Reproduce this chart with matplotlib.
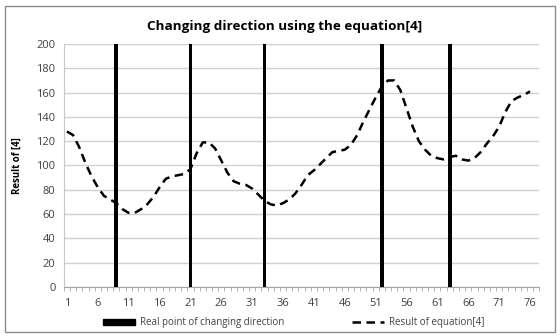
import numpy as np
import matplotlib
matplotlib.use("Agg")
import matplotlib.pyplot as plt
import matplotlib.patches as mpatches
from matplotlib.lines import Line2D

# ─────────────────────────────────────────────────────────────────────────────
#  DATA
# ─────────────────────────────────────────────────────────────────────────────

n_categories = 77
change_points = [9, 21, 33, 52, 63]
change_value = 200

equation_result = [
    128, 125, 115, 102, 91, 82, 75, 72, 69, 64,
    61, 61, 64, 68, 74, 82, 89, 91, 92, 93,
    97, 110, 119, 119, 114, 104, 94, 87, 85, 84,
    81, 76, 71, 68, 67, 69, 72, 77, 84, 92,
    96, 101, 106, 111, 112, 113, 117, 125, 136, 146,
    156, 165, 170, 170, 162, 147, 132, 120, 113, 108,
    106, 105, 107, 108, 105, 104, 106, 111, 118, 124,
    132, 144, 153, 156, 158, 161,
]

x_ticklabels = list(range(1, 77, 5))
y_ticks = list(range(0, 201, 20))

# ─────────────────────────────────────────────────────────────────────────────
#  FIGURE
# ─────────────────────────────────────────────────────────────────────────────

plt.rcParams["font.family"] = ["Open Sans", "DejaVu Sans"]

fig = plt.figure(figsize=(5.6, 3.36), dpi=100)
ax = fig.add_axes([0.114, 0.146, 0.849, 0.723])

# outer frame of the chart
fig.patches.append(mpatches.Rectangle(
    (0.009, 0.012), 0.982, 0.97,
    transform=fig.transFigure, fill=False,
    edgecolor="#8c8c8c", linewidth=1.0
))

ax.bar(change_points, [change_value] * len(change_points),
       width=0.62, color="black", zorder=3)

x_line = np.arange(1, len(equation_result) + 1)
ax.plot(x_line, equation_result, color="black", linewidth=1.8,
        dashes=(3.4, 2.2), zorder=4)

ax.set_xlim(0.5, n_categories + 0.5)
ax.set_ylim(0, 200)
ax.set_yticks(y_ticks)
ax.set_xticks(x_ticklabels)
ax.set_xticklabels([str(v) for v in x_ticklabels])
ax.set_xticks(np.arange(0.5, n_categories + 1, 1), minor=True)
ax.tick_params(axis="x", which="major", length=0, labelsize=8,
               colors="#404040", pad=8)
ax.tick_params(axis="x", which="minor", length=3, color="#a6a6a6")
ax.tick_params(axis="y", length=0, labelsize=8, colors="#404040", pad=6)

ax.grid(axis="y", color="#d0d0d0", linewidth=1.0, zorder=0)
ax.set_axisbelow(True)
for side in ["top", "right"]:
    ax.spines[side].set_visible(False)
ax.spines["left"].set_color("#c8c8c8")
ax.spines["bottom"].set_color("#a6a6a6")

ax.set_ylabel("Result of [4]", fontsize=7, fontweight="bold", labelpad=10)
fig.text(0.509, 0.922, "Changing direction using the equation[4]",
         ha="center", va="center", fontsize=9.7, fontweight="bold")

handles = [
    mpatches.Patch(facecolor="black", edgecolor="black",
                   label="Real point of changing direction"),
    Line2D([0], [0], color="black", linewidth=1.8, dashes=(3.4, 2.2),
           label="Result of equation[4]"),
]
fig.legend(handles=handles, loc="center", bbox_to_anchor=(0.525, 0.04),
           ncol=2, frameon=False, fontsize=7, columnspacing=7,
           handlelength=3.3, handleheight=0.6, handletextpad=0.5,
           labelcolor="#404040")

fig.savefig("out.png", dpi=100)
